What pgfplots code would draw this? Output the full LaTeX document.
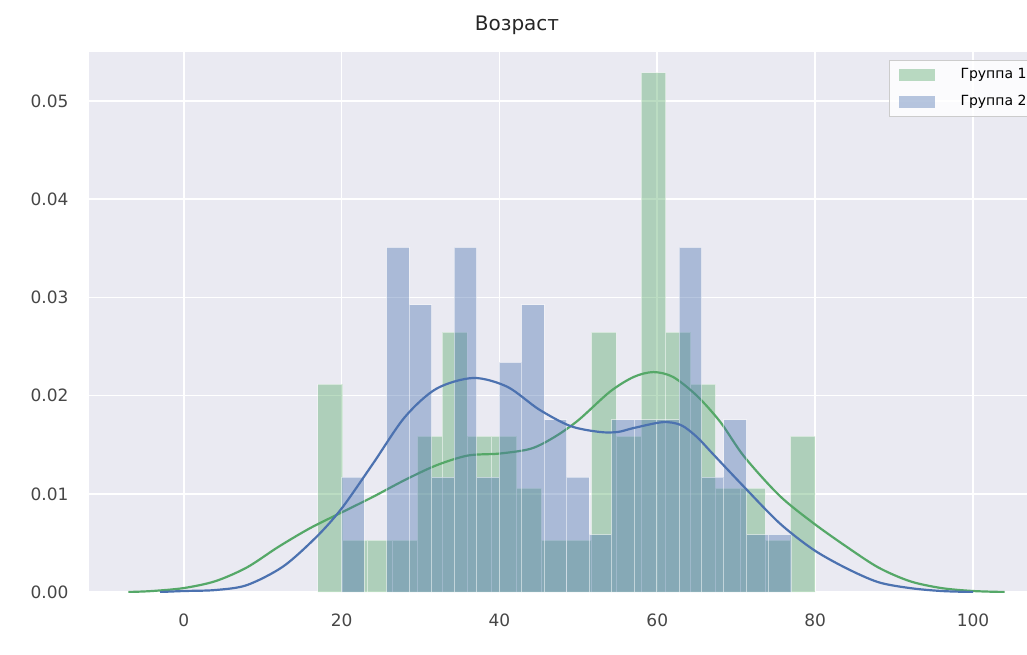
\documentclass[border=0pt]{standalone}
\usepackage{fontspec}
\setmainfont{DejaVu Sans}
\usepackage{pgfplots}
\pgfplotsset{compat=1.18}
\usetikzlibrary{calc}
\definecolor{sgreen}{RGB}{85,168,104}
\definecolor{sblue}{RGB}{76,114,176}
\definecolor{bgc}{RGB}{234,234,242}
\definecolor{tickc}{RGB}{70,70,70}
\pgfplotsset{histlegend/.style={legend image code/.code={\fill[##1, draw=none] (0pt,-3pt) rectangle (18pt,3pt);}}}
\begin{document}
\begin{tikzpicture}
\begin{axis}[
  name=ax,
  scale only axis, width=469pt, height=270pt,
  xmin=-12, xmax=106.84, ymin=0, ymax=0.055,
  axis background/.style={fill=bgc},
  axis line style={draw=none},
  major tick length=0pt,
  grid=major, grid style={white, line width=0.8pt},
  xtick={0,20,40,60,80,100},
  ytick={0,0.01,0.02,0.03,0.04,0.05},
  yticklabels={0.00,0.01,0.02,0.03,0.04,0.05},
  scaled y ticks=false,
  /pgf/number format/assume math mode=true,
  tick label style={font=\fontsize{8.5}{10}\selectfont, text=tickc},
  xticklabel style={yshift=-7.5pt},
  yticklabel style={xshift=-6.7pt},
  title={Возраст},
  title style={at={(rel axis cs:0.4563,1)}, anchor=base, yshift=4.5pt, font=\fontsize{10}{12}\selectfont, text=black!85},
  legend cell align=left,
  legend style={at={(rel axis cs:0.853,0.985)}, anchor=north west, draw=black!20, fill=white, fill opacity=0.85, text opacity=1, draw opacity=1, font=\fontsize{7}{8}\selectfont, inner xsep=4.5pt, inner ysep=4pt, row sep=7pt, column sep=13pt, nodes={inner sep=0pt, text height=5pt, text depth=1.5pt}},
]
% Группа 1 histogram (20 bins, 17..80, width 3.15)
\addplot[ybar, bar width=3.15, bar shift=0pt, fill=sgreen, fill opacity=0.4, draw=white, draw opacity=0.5, line width=0.5pt, histlegend] coordinates {
(18.575,0.02116) (21.725,0.00529) (24.875,0.00529) (28.025,0.00529) (31.175,0.01587)
(34.325,0.02646) (37.475,0.01587) (40.625,0.01587) (43.775,0.01058) (46.925,0.00529)
(50.075,0.00529) (53.225,0.02646) (56.375,0.01587) (59.525,0.05291) (62.675,0.02646)
(65.825,0.02116) (68.975,0.01058) (72.125,0.01058) (75.275,0.00529) (78.425,0.01587)
};
\addlegendentry{Группа 1}
\addplot[smooth, sgreen, line width=1.1pt, forget plot] coordinates {
(-7,0) (-4,0.0001) (0,0.0004) (4,0.0011) (8,0.0025) (12,0.0046) (16,0.0065) (20,0.0081)
(24,0.0097) (28,0.0114) (32,0.0129) (36,0.0139) (40,0.0141) (44,0.0146) (47,0.0158)
(50,0.0175) (54,0.0204) (57,0.0219) (59.5,0.0224) (62,0.0219) (65,0.0200) (68,0.0173)
(71,0.0138) (75.5,0.0098) (79.8,0.0070) (84,0.0046) (88,0.0025) (92,0.0011) (96,0.0004)
(100,0.0001) (104,0)
};
% Группа 2 histogram (20 bins, 20..77, width 2.85)
\addplot[ybar, bar width=2.85, bar shift=0pt, fill=sblue, fill opacity=0.4, draw=white, draw opacity=0.5, line width=0.5pt, histlegend] coordinates {
(21.425,0.01170) (27.125,0.03509) (29.975,0.02924) (32.825,0.01170)
(35.675,0.03509) (38.525,0.01170) (41.375,0.02339) (44.225,0.02924) (47.075,0.01754)
(49.925,0.01170) (52.775,0.00585) (55.625,0.01754) (58.475,0.01754) (61.325,0.01754)
(64.175,0.03509) (67.025,0.01170) (69.875,0.01754) (72.725,0.00585) (75.575,0.00585)
};
\addlegendentry{Группа 2}
\addplot[smooth, sblue, line width=1.1pt, forget plot] coordinates {
(-3,0) (0,0.0001) (4,0.0002) (8,0.0007) (12.6,0.0026) (16.8,0.0056) (20,0.0085)
(24,0.0131) (28,0.0178) (32,0.0207) (36.7,0.0218) (41,0.0209) (45,0.0186) (49,0.0169)
(52.7,0.0163) (55,0.0163) (57,0.0167) (60.7,0.0173) (63,0.0170) (65,0.0158) (67,0.0141)
(71,0.0107) (75.5,0.0070) (79.8,0.0043) (84,0.0024) (88,0.0010) (92,0.0004) (96,0.0001)
(100,0)
};
\end{axis}
\pgfresetboundingbox
\path[use as bounding box] ($(ax.south west)+(-44.5pt,-31pt)$) rectangle ($(ax.north east)+(0pt,26pt)$);
\end{tikzpicture}
\end{document}
